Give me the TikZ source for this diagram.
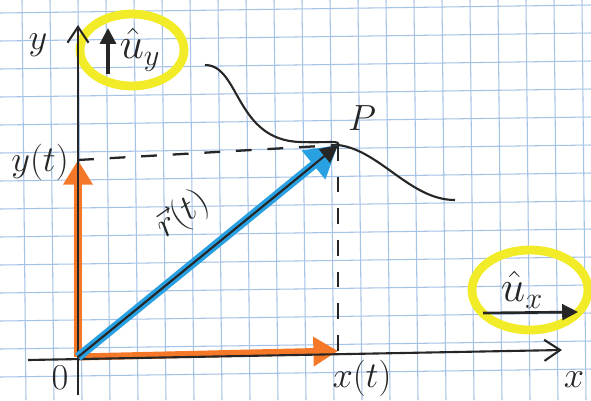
\documentclass[tikz,border=0pt]{standalone}
\usetikzlibrary{arrows.meta}
\definecolor{hlyellow}{RGB}{242,236,40}
\definecolor{gridblue}{RGB}{165,195,230}
\definecolor{vecorange}{RGB}{245,120,40}
\definecolor{vecblue}{RGB}{40,160,225}
\begin{document}
\begin{tikzpicture}[x=0.02cm,y=-0.02cm,
  gridline/.style={draw=gridblue, line width=0.6pt},
  axis/.style={draw=black!85, line width=1.2pt, -{Straight Barb[length=9pt,width=12pt,line width=1.2pt]}},
  orangevec/.style={draw=vecorange, line width=4pt, -{Triangle[length=14pt,width=16pt]}},
  bluevec/.style={draw=vecblue, line width=5pt, -{Triangle[length=18pt,width=20pt]}},
  dashline/.style={draw=black!85, line width=1.3pt, dash pattern=on 9pt off 9pt},
  lbl/.style={font=\fontsize{22}{24}\selectfont, text=black!85, inner sep=1pt},
  biglbl/.style={font=\fontsize{26}{28}\selectfont, text=black!85, inner sep=1pt},
  hl/.style={draw=hlyellow, line width=5pt}
]
\useasboundingbox (0,0) rectangle (591,400);
\fill[white] (0,0) rectangle (591,400);
% grid
\foreach \gx in {22,50,...,591} \draw[gridline] (\gx,0) -- (\gx+4,400);
\foreach \gy in {10,38,...,400} \draw[gridline] (0,\gy+3) -- (591,\gy-5);

% key points
\coordinate (O) at (78,357);
\coordinate (P) at (338,145);
\coordinate (yt) at (78,160);
\coordinate (xt) at (338,351);
\coordinate (xstart) at (28,360);
\coordinate (xend) at (562,350);
\coordinate (ystart) at (78,395);
\coordinate (yend) at (78,25);

% yellow highlights
\draw[hl] (132,50) ellipse [x radius=52, y radius=36];
\draw[hl] (530,290) ellipse [x radius=58, y radius=40];

% curve
\coordinate (c0) at (205,65);
\coordinate (c1) at (455,200);
\draw[black!85, line width=1.2pt] (c0) .. controls (240,65) and (235,140) .. (300,142)
  .. controls (330,143) and (340,140) .. (P)
  .. controls (380,150) and (410,200) .. (c1);

% dashed projections
\draw[dashline] (yt) -- (P);
\draw[dashline] (P) -- (xt);

% orange component vectors
\draw[orangevec] (O) -- (yt);
\draw[orangevec] (O) -- (xt);

% axes
\draw[axis] (xstart) -- (xend);
\draw[axis] (ystart) -- (yend);

% position vector
\draw[bluevec] (O) -- (P);
\draw[black!85, line width=1.2pt, -{Triangle[length=10pt,width=10pt]}] (O) -- (P);

% labels
\node[lbl] (ylab) at (38,45) {$y$};
\node[lbl] (xlab) at (574,380) {$x$};
\node[lbl] (olab) at (60,378) {$0$};
\node[lbl] (xtlab) at (362,378) {$x(t)$};
\node[lbl] (ytlab) at (40,162) {$y(t)$};
\node[lbl] (plab) at (362,118) {$P$};
\node[lbl, rotate=35] (rlab) at (183,215) {$\vec{r}(t)$};

% unit vector labels
\coordinate (uya) at (108,74);
\coordinate (uyb) at (108,28);
\draw[black!85, line width=1.8pt, -{Triangle[length=9pt,width=9pt]}] (uya) -- (uyb);
\node[biglbl] (uy) at (140,50) {$\hat{u}_y$};
\node[biglbl] (ux) at (522,290) {$\hat{u}_x$};
\coordinate (uxa) at (483,313);
\coordinate (uxb) at (578,312);
\draw[black!85, line width=1.5pt, -{Triangle[length=9pt,width=9pt]}] (uxa) -- (uxb);
\end{tikzpicture}
\end{document}
